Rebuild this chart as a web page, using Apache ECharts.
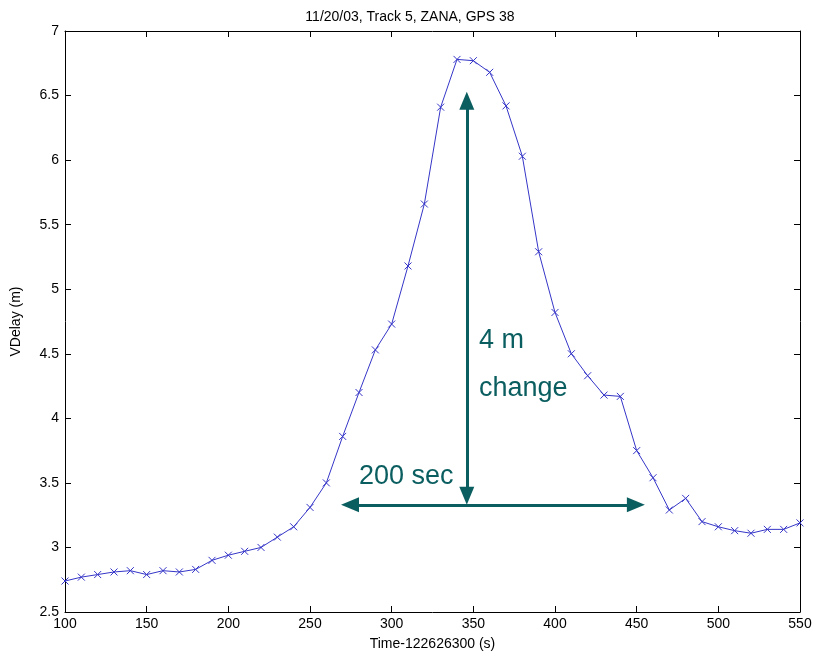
<!DOCTYPE html>
<html><head><meta charset="utf-8">
<script src="https://cdn.jsdelivr.net/npm/echarts@6/dist/echarts.min.js"></script>
<style>html,body{margin:0;padding:0;background:#fff}#c{width:820px;height:660px}</style>
</head><body><div id="c"></div>
<script>
const times = [100,110,120,130,140,150,160,170,180,190,200,210,220,230,240,250,260,270,280,290,300,310,320,330,340,350,360,370,380,390,400,410,420,430,440,450,460,470,480,490,500,510,520,530,540,550];
const vdelay = [2.74,2.77,2.79,2.81,2.82,2.79,2.82,2.81,2.83,2.90,2.94,2.97,3.00,3.08,3.16,3.31,3.50,3.86,4.20,4.53,4.73,5.18,5.66,6.41,6.78,6.77,6.68,6.42,6.03,5.29,4.82,4.50,4.33,4.18,4.17,3.75,3.54,3.29,3.38,3.20,3.16,3.13,3.11,3.14,3.14,3.19];
const vArrow = [[346,3.40],[346,6.46]];
const hArrow = [[274.5,3.33],[449.5,3.33]];
const title = '11/20/03, Track 5, ZANA, GPS 38';
const xName = 'Time-122626300 (s)';
const yName = 'VDelay (m)';

const font = 'Liberation Sans, Arial, sans-serif';
const teal = '#0b5e60';
const chart = echarts.init(document.getElementById('c'));
const axCommon = {
  axisLine:{show:true,lineStyle:{color:'#000',width:1}},
  axisTick:{show:true,inside:true,length:6,lineStyle:{color:'#000'}},
  splitLine:{show:false}
};
chart.setOption({
  animation:false,
  title:{text:title,left:'center',top:5,textStyle:{fontFamily:font,fontSize:14,fontWeight:'normal',color:'#000'}},
  grid:{left:65,right:20,top:31,bottom:48},
  xAxis:[
    Object.assign({type:'value',min:100,max:550,interval:50,position:'bottom',
      name:xName,nameLocation:'middle',nameGap:25,nameTextStyle:{fontFamily:font,fontSize:14,color:'#000'},
      axisLabel:{fontFamily:font,fontSize:14,color:'#000',margin:5}},axCommon),
    Object.assign({type:'value',min:100,max:550,interval:50,position:'top',axisLabel:{show:false}},axCommon)
  ],
  yAxis:[
    Object.assign({type:'value',min:2.5,max:7,interval:0.5,position:'left',
      name:yName,nameLocation:'middle',nameGap:42,nameTextStyle:{fontFamily:font,fontSize:14,color:'#000'},
      axisLabel:{fontFamily:font,fontSize:14,color:'#000',margin:6}},axCommon),
    Object.assign({type:'value',min:2.5,max:7,interval:0.5,position:'right',axisLabel:{show:false}},axCommon)
  ],
  series:[
    {type:'line',data:times.map((t,i)=>[t,vdelay[i]]),
      lineStyle:{color:'#3535c8',width:1},
      symbol:'path://M0,0L10,10M10,0L0,10',symbolSize:7,
      itemStyle:{color:'none',borderColor:'#3535c8',borderWidth:1},
      markLine:{silent:true,symbolSize:[15,18],
        lineStyle:{color:teal,width:3,type:'solid'},label:{show:false},
        data:[
          [{coord:vArrow[0],symbol:'triangle'},{coord:vArrow[1],symbol:'triangle'}],
          [{coord:hArrow[0],symbol:'triangle'},{coord:hArrow[1],symbol:'triangle'}]
        ]}
    }
  ],
  graphic:[
    {type:'text',left:479,top:327,style:{text:'4 m',font:'27px '+font,fill:teal}},
    {type:'text',left:479,top:375,style:{text:'change',font:'27px '+font,fill:teal}},
    {type:'text',left:359,top:463,style:{text:'200 sec',font:'27px '+font,fill:teal}}
  ]
});
</script></body></html>
